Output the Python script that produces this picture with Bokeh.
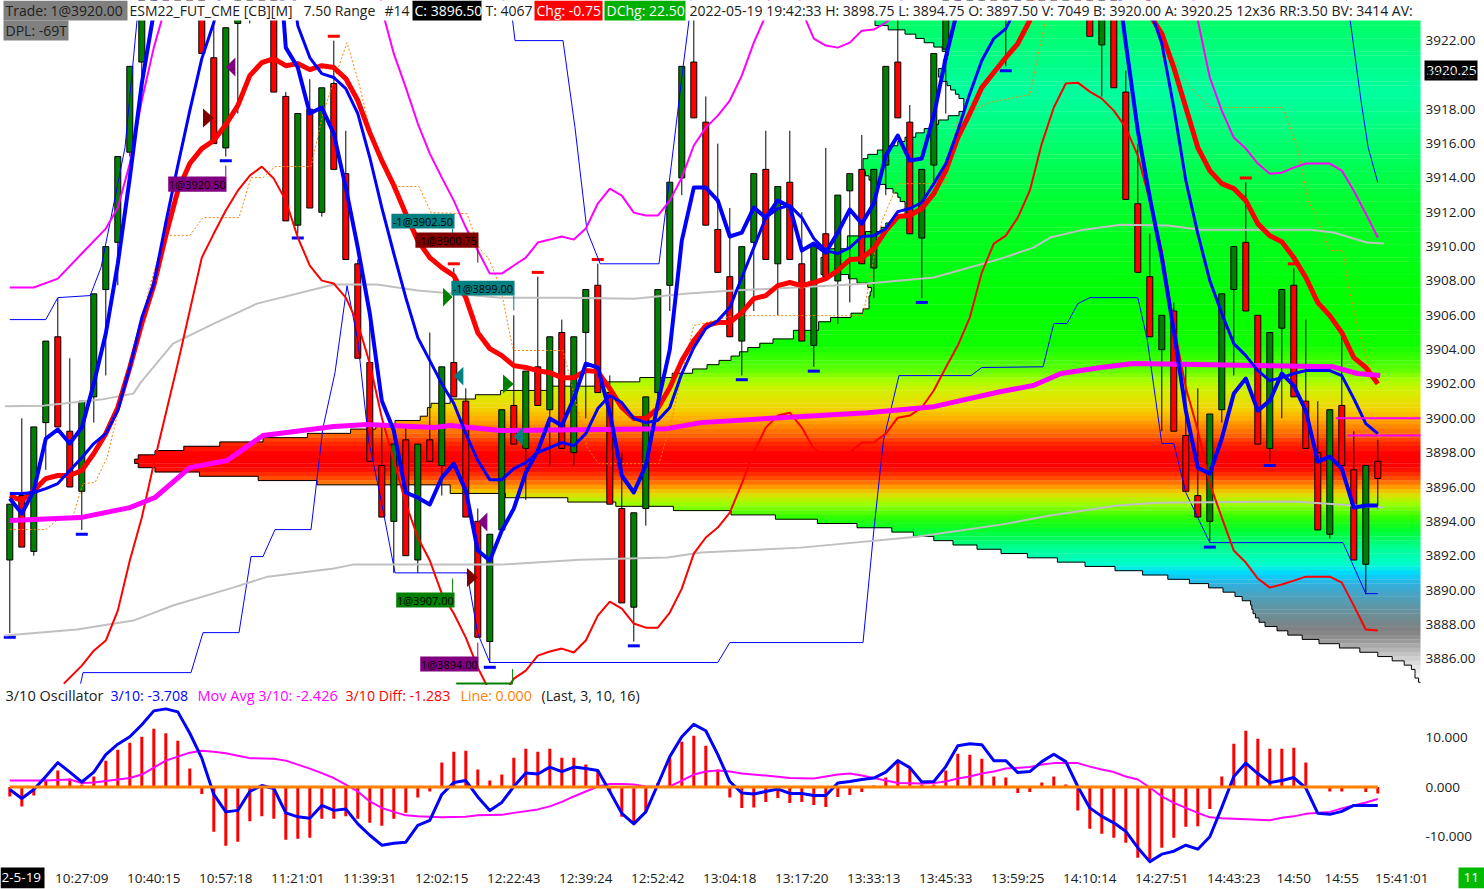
import numpy as np
from bokeh.embed import file_html
from bokeh.resources import INLINE
from bokeh.plotting import figure
from bokeh.layouts import column
from bokeh.core.properties import value
from bokeh.models import Range1d, FixedTicker, NumeralTickFormatter

FONT = "Open Sans"

# ---- candles (bar index is the position in these lists; 3920+ values above the frame are estimates)
opens = [3891.75,3895.5,3892.25,3899.75,3904.75,3899.25,3895.75,3901.25,3907.5,3910.25,
 3915.5,3920.75,3925.75,3928.75,3931.75,3928,3925.5,3921,3915.75,3923,
 3925,3928,3925,3918.75,3911.25,3918,3912,3919.5,3914.25,3909,
 3903.25,3897.25,3894,3898.75,3891.75,3898.75,3897.25,3903.25,3901,3894,
 3887,3893.5,3900.75,3898.25,3903,3900.5,3905,3898,3905,3907.75,
 3901.5,3894.75,3889,3894.75,3901.5,3907.75,3914,3920.75,3917.25,3911,
 3908.25,3904.5,3910.25,3914.5,3909,3913.75,3909,3904.25,3910.75,3908,
 3913.25,3914.5,3908.75,3914.75,3920.75,3917.25,3910.5,3914.75,3921.5,3925.25,
 3924,3927.25,3930.25,3924,3930.25,3935.25,3938,3933,3928,3930.25,
 3925,3921.75,3925,3919,3912.5,3908.25,3904,3906.25,3899,3895.5,
 3894,3900.5,3907.5,3910.25,3906,3898.25,3905.25,3907.75,3901,3898,
 3893.25,3900.75,3897,3891.5,3897.5]
highs = [3895,3900,3899.5,3904.5,3907,3903.5,3901,3907.25,3910,3915.25,
 3920.5,3925.5,3928.5,3932,3933,3929.5,3927,3924,3922.75,3926,
 3928,3929,3926.5,3919,3917.75,3919.75,3919.25,3922,3916.75,3909.25,
 3906,3899.5,3898.5,3899.5,3898.5,3905,3903,3908.75,3901.75,3894.75,
 3893.25,3900.5,3906,3902.75,3908.25,3904.75,3905.75,3904.75,3907.5,3909,
 3902.5,3898,3894.5,3901.25,3907.5,3913.75,3920.5,3924,3918.75,3916,
 3912.25,3910,3914.25,3916.75,3913.5,3916.75,3912,3910,3915.75,3913,
 3914.25,3916.5,3914.5,3920.5,3924,3918.25,3914.5,3921.25,3925,3926.5,
 3927,3930,3931,3930,3935,3938,3939,3935,3930,3931,
 3926,3925,3926,3920.25,3916,3910.75,3906,3906.75,3903,3901.75,
 3900.25,3907.25,3910,3913.75,3906,3905,3907.5,3908.75,3905.75,3901,
 3900.5,3904.75,3899.25,3897.25,3898.75]
lows = [3887.5,3892.5,3892,3897,3899.5,3896,3893.5,3899.75,3902.5,3907.75,
 3915.25,3919.75,3924,3926.5,3928,3926,3921.25,3916,3915.25,3917.75,
 3923,3925,3919,3911.5,3910.75,3912.25,3911.75,3914.5,3909.25,3903.5,
 3897.5,3894.25,3891,3892,3891,3897.5,3895.5,3901.25,3894.25,3887.25,
 3885.75,3893.5,3898.5,3895.25,3900.75,3897.25,3898.25,3897.25,3900,3901.5,
 3895,3889.25,3887,3893.75,3901,3906.25,3913,3917.5,3911.25,3908.5,
 3904.75,3902.5,3906.25,3909.25,3906,3909.25,3904.5,3903,3908.25,3905.5,
 3906.75,3909,3907,3913,3917.5,3910.75,3907,3913.75,3917.75,3923.5,
 3923.5,3924,3925,3920.5,3928,3933,3933,3928,3926,3925,
 3922.25,3918.75,3919.25,3912.75,3908.5,3904.75,3899.25,3899.25,3895.75,3894.25,
 3892.75,3899.75,3902.5,3906.25,3898.5,3897.5,3900,3901.25,3898.25,3893.5,
 3893,3897.25,3891.75,3889.75,3894.75]
closes = [3895,3892.5,3899.5,3904.5,3899.5,3896,3901,3907.25,3910,3915.25,
 3920.5,3925.5,3928.5,3932,3928,3926,3921.25,3916,3922.75,3926,
 3928,3925,3919,3911.5,3917.75,3912.25,3919.25,3914.5,3909.25,3903.5,
 3897.5,3894.25,3898.5,3892,3898.5,3897.5,3903,3901.25,3894.25,3887.25,
 3893.25,3900.5,3898.5,3902.75,3900.75,3904.75,3898.25,3904.75,3907.5,3901.5,
 3895,3889.25,3894.5,3901.25,3907.5,3913.75,3920.5,3917.5,3911.25,3908.5,
 3904.75,3910,3914.25,3909.25,3913.5,3909.25,3904.5,3910,3908.25,3913,
 3914.25,3909,3914.5,3920.5,3917.5,3910.75,3914.5,3921.25,3925,3923.5,
 3927,3930,3925,3930,3935,3938,3933,3928,3930,3925,
 3922.25,3925,3919.25,3912.75,3908.5,3904.75,3906,3899.25,3895.75,3894.25,
 3900.25,3907.25,3910,3906.25,3898.5,3905,3907.5,3901.25,3898.25,3893.5,
 3900.5,3897.25,3891.75,3897.25,3896.5]

swing_low_bars = [0,6,18,24,40,52,61,67,76,83,100,105]
swing_high_bars = [27,37,44,49,103,107]

# ---- moving averages
fast_blue_bars = list(range(0,14)) + list(range(22,81)) + list(range(92,115))
fast_blue = [3895.33,3894.45,3895.79,3898.82,3899.35,3898.53,3899.46,3902.02,3904.94,3909.01,
 3914.02,3919.5,3923.63,3929,
 3931,3921.59,3920.43,3917.75,3918.1,3916.58,3913.44,3909.94,3906.1,3901.03,
 3899.29,3895.68,3895.38,3894.98,3896.55,3897.36,3895.79,3892.3,3891.72,3893.46,
 3894.74,3896.84,3898.12,3899.99,3899.58,3901.15,3903.19,3902.96,3900.33,3896.67,
 3895.68,3897.25,3900.86,3904.0,3910.35,3913.44,3913.44,3912.68,3910.59,3910.82,
 3912.27,3911.69,3912.68,3912.33,3909.77,3910.18,3909.65,3910.82,3912.16,3911.34,
 3912.51,3915.3,3916.47,3915.01,3915.13,3917.63,3921.01,3923.86,3930,
 3927.2,3921.83,3916.76,3912.86,3909.36,3905.11,3900.45,3897.13,3896.78,3898.82,
 3901.44,3902.32,3900.45,3901.03,3902.61,3901.91,3900.45,3897.48,3897.77,3897.07,
 3894.8,3894.92,3894.92]
slow_blue_bars = list(range(0,19)) + list(range(23,86)) + list(range(94,115))
slow_blue = [3895.62,3895.62,3895.68,3895.91,3896.2,3896.96,3897.71,3898.53,3899.11,3900.45,
 3902.96,3905.87,3907.85,3911.4,3914.72,3917.92,3920.95,3923.05,3926,
 3928,3922.87,3921.01,3920.08,3919.85,3919.2,3917.75,3915.19,3912.27,3909.6,
 3907.03,3904.7,3903.36,3902.02,3900.86,3899.11,3897.54,3896.43,3896.43,3897.07,
 3897.42,3898.01,3898.3,3898.59,3898.41,3899.11,3900.57,3901.33,3900.92,3899.99,
 3899.75,3899.87,3900.63,3902.61,3904.12,3905.23,3905.69,3906.45,3908.2,3909.94,
 3911.69,3912.22,3912.39,3911.69,3910.47,3909.77,3909.6,3909.94,3910.59,3910.64,
 3911.05,3912.04,3912.22,3912.57,3913.67,3914.84,3916.76,3918.91,3920.84,3922.12,
 3922.7,3924.04,3928,
 3930,3923.86,3921.83,3918.1,3913.85,3910.76,3908.02,3906.1,3904.35,3903.65,
 3902.78,3902.2,3902.37,3902.61,3902.78,3902.78,3902.78,3902.49,3901.15,3899.69,3899.11]
thick_red_bars = list(range(0,87)) + list(range(94,115))
thick_red = [3895.5,3895.21,3895.79,3896.49,3896.67,3896.67,3896.96,3897.95,3899.11,3900.63,
 3902.96,3905.52,3907.73,3910.64,3913.26,3914.84,3915.71,3916.18,3917.11,3918.21,
 3919.96,3920.72,3920.95,3920.54,3920.66,3920.31,3920.54,3920.43,3919.79,3918.51,
 3916.64,3915.01,3913.56,3911.92,3910.35,3909.36,3908.78,3908.31,3907.03,3904.99,
 3904.06,3903.65,3903.07,3902.96,3902.78,3902.66,3902.37,3902.37,3902.78,3902.72,
 3901.73,3900.63,3899.99,3899.99,3900.57,3901.79,3903.36,3904.53,3905.4,3905.58,
 3905.58,3906.16,3906.97,3907.15,3907.73,3907.91,3907.73,3907.91,3908.14,3908.61,
 3909.25,3909.3,3909.89,3910.93,3911.75,3911.81,3912.22,3913.09,3914.43,3916.35,
 3917.75,3919.26,3920.14,3921.01,3921.83,3923.17,3929,
 3930,3923.5,3922.41,3920.43,3918.1,3915.77,3914.43,3913.67,3913.38,3912.68,
 3911.34,3910.64,3910.29,3909.36,3908.2,3906.74,3905.98,3904.99,3903.54,3902.96,3902.02]
lower_band_bars = [4.5] + list(range(6,115))
lower_band = [3884.55,3885.6,3886.47,3887.06,3888.8,3891.72,3894.22,3897.36,3900.28,3903.19,
 3906.28,3909.36,3910.76,3912.1,3913.26,3914.14,3914.66,3913.96,3912.68,3910.53,
 3908.9,3908.02,3907.85,3907.03,3905.52,3903.19,3900.04,3897.54,3895.04,3893.06,
 3891.72,3889.79,3888.63,3887.23,3885.48,3884.09,3883.7,3884.84,3885.31,3886.18,
 3886.42,3886.59,3886.36,3887.06,3888.51,3889.33,3888.92,3888.05,3887.81,3887.81,
 3888.69,3890.08,3892.12,3893.06,3893.64,3894.51,3896.2,3898.01,3899.46,3900.16,
 3900.33,3899.46,3898.24,3897.83,3897.83,3898.01,3898.59,3898.59,3899.11,3900.04,
 3900.16,3900.63,3901.62,3902.96,3904.24,3905.87,3908.49,3910.18,3910.64,3911.69,
 3913.26,3916,3918.1,3919.5,3919.55,3919.03,3918.62,3917.92,3916.93,3915.3,
 3912.68,3909.77,3905.4,3901.79,3899.29,3896.2,3894.22,3892.3,3891.6,3890.67,
 3890.14,3890.32,3890.55,3890.78,3890.78,3890.78,3890.43,3889.09,3887.7,3887.64]
upper_band_bars = [0,2,4,6,8,9,10,11,12,13,14,30] + list(range(31,76)) + list(range(98,115))
upper_band = [3907.62,3907.62,3908.14,3909.6,3911.05,3912.27,3914.84,3918.51,3921.59,3924.04,3929,3931,
 3923.86,3921.24,3919.26,3917.17,3915.42,3914.02,3912.68,3911.11,3909.77,3908.43,
 3908.43,3908.9,3909.36,3910.24,3910.41,3910.59,3910.41,3911.05,3912.51,3913.38,
 3912.97,3911.98,3911.81,3911.81,3912.68,3914.02,3915.89,3916.93,3917.63,3918.51,
 3919.96,3921.88,3923.46,3927,3927,3923.75,3922.12,3921.71,3921.59,3921.88,
 3922.58,3922.64,3923.05,3923.63,3926,
 3926.5,3923.17,3919.85,3917.92,3916.35,3915.71,3914.84,3914.25,3914.31,3914.6,
 3914.84,3914.84,3914.84,3914.43,3913.26,3911.92,3910.53]
channel_high_bars = [0,3,4,6.7,7.6,8.6,9.6,10.6,11,40,41.9,42.1,46.1,47.1,48.1,49.2,54.1,55.1,56.1,56.6,57,111,111.7,112.6,113.2,114]
channel_high = [3905.75,3905.75,3907.03,3907.15,3908.78,3912.27,3915.77,3923.17,3926,3926,3923.17,3922,3922,3916.93,3910.93,3909,3909,3914.6,3920.43,3923.17,3926,3926,3923.17,3918.5,3915.77,3913.73]
channel_low_bars = [5.9,6.1,15.1,16.1,19.1,20.1,21.1,22.1,25.1,26.1,27.1,28.1,29,29.9,30.9,32.1,38.1,39,40,59,60,71.1,72,72.8,74.1,80.1,81,86.1,87,88.1,89,90,94,94.8,96,97,98,100,111.1,113,114]
channel_low = [3884.55,3885.19,3885.19,3887.52,3887.52,3891.95,3891.95,3893.52,3893.52,3899.46,3902.66,3907.73,3904.53,3898.7,3895.38,3891,3891,3887.46,3885.78,3885.78,3886.94,3886.94,3893.46,3898.7,3902.49,3902.49,3902.96,3903,3905.52,3905.52,3906.68,3907.03,3907.03,3904.53,3898.53,3898.53,3895.68,3892.76,3892.76,3889.79,3889.79]
dotted_bars = [0,3,4.06,5.2,6.1,7.1,8.1,9,10.3,11.1,11.5,12.6,13.1,15,16.1,19.1,20.1,21.1,22.1,25.1,26.1,27.1,28.1,29.1,30.1,31.1,32.3,34.1,35.1,38.1,39.1,39.9,40.9,41.9,42,46.1,46.6,47.6,48.1,49.1,54.1,55.2,56,57,60.3,71.1,71.7,72.1,72.7,74,78,79,81.6,85,85.3,86.3,87,95,96.1,97,98.1,100,106.1,107.3,108.2,109.4,110,111.1,111.5,112.4,113.2,114]
dotted = [3893.52,3893.52,3894.16,3894.16,3896.2,3896.26,3897.71,3900.28,3903.95,3905.87,3907.27,3909.94,3910.64,3910.64,3911.69,3911.69,3914.02,3914.02,3914.66,3914.66,3917.75,3919.85,3921.88,3919.5,3916.58,3914.84,3913.5,3913.5,3911.98,3911.92,3909.94,3909.3,3907.62,3904.12,3903.95,3903.95,3902.61,3899.69,3898.3,3897.36,3897.36,3900.04,3902.61,3905.4,3905.98,3905.98,3908.2,3909.77,3911.52,3913.67,3913.67,3917.52,3918.39,3918.86,3919.85,3923.17,3926,3926,3921.01,3920.95,3919.5,3918.1,3918.1,3915.77,3912.68,3910.93,3909.77,3909.77,3907.85,3905.11,3903.19,3902.02]
grey_up_bars = [-0.4,2.8,7.6,10.3,10.9,13.6,17,20.6,27,30.6,34,40.9,46.5,52,56.5,60.3,68.6,71.5,77,82.6,85.3,86.7,89.5,92.6,96.5,99.2,108.4,110.3,113.1,114.5]
grey_up = [3900.7,3900.74,3901.09,3901.44,3902.08,3904.35,3905.52,3906.68,3907.79,3907.79,3907.44,3907.03,3907.03,3906.97,3907.27,3907.44,3907.73,3907.85,3908.2,3909.3,3909.94,3910.53,3910.99,3911.28,3911.23,3910.99,3910.99,3910.82,3910.24,3910.18]
grey_dn_bars = [-0.4,5.6,10.3,13.6,18.6,21.5,27,28.6,35.3,40.9,47.5,54.8,57.6,65.9,75.6,82.6,86.7,92.3,95.6,107,114.5]
grey_dn = [3887.35,3887.7,3888.22,3889.1,3890.14,3890.78,3891.25,3891.48,3891.48,3891.48,3891.77,3891.89,3892.18,3892.47,3893.11,3893.81,3894.34,3894.92,3895.09,3895.15,3894.8]
vwap_bars = [0,5.9,10,12.1,15,18.1,21.1,27,29.8,35.3,36.7,40.9,54.8,57.6,63.1,71.5,77,82.6,85.3,87.6,90.9,93.6,110.3,112.3,114.2]
vwap = [3894.05,3894.22,3894.8,3895.39,3897.13,3897.54,3899,3899.52,3899.64,3899.46,3899.58,3899.29,3899.4,3899.75,3899.99,3900.33,3900.68,3901.56,3901.91,3902.61,3902.96,3903.19,3903,3902.61,3902.49]

# ---- volume profile: one start bar per 0.25 price level, from 3923.25 down to 3884.75
profile_start = [72.1,72.1,73.2,74.6,75.5,76.2,77.0,77.7,78.2,78.1,77.8,77.8,77.4,77.4,77.7,78.1,78.4,78.8,79.1,79.5,
 79.5,79.5,79.1,78.2,77.4,77.0,76.2,75.5,74.6,74.0,73.2,72.3,71.5,71.1,71.1,71.1,71.3,71.6,72.1,73.0,
 73.6,74.0,74.2,74.6,74.6,74.6,73.8,73.8,73.0,72.6,71.3,69.8,69.8,69.8,68.2,68.2,67.6,67.6,67.6,67.6,
 69.9,70.6,71.5,71.8,71.7,71.6,71.6,71.6,71.1,70.1,68.4,67.4,67.4,65.3,65.3,63.6,62.5,61.5,60.8,60.1,
 59.1,58.1,56.9,55.2,52.5,49.8,44.8,40.9,38.8,36.7,35.1,34.8,34.8,34.2,32.1,30.5,28.4,24.8,21.1,17.5,
 14.5,12.1,10.7,10.4,10.7,12.1,15.8,20.7,25.6,36.7,36.7,41.3,46.5,50.5,55.3,60.1,63.8,67.3,70.6,73.5,
 75.3,77,78.6,80.6,82.6,84.8,87.3,89.6,92.1,94.4,96.5,98.3,99.9,101.1,102.1,102.7,103.4,103.5,103.6,103.8,
 104.1,104.6,105.6,106.5,107.7,109.1,110.8,112.5,114,115.2,116.2,116.8,117.1,117.1,117.4]
profile_top = 3923.25
profile_step = 0.25
color_prices = [3923.17,3918.91,3916.18,3912.68,3906.86,3904.24,3902.78,3902.2,3901.62,3900.63,3899.99,3899.4,3899,3898.53,3897.95,3897.13,3896.55,3895.97,3895.62,3895.04,3894.22,3893.46,3892.47,3891.54,3890.96,3890.38,3889.56,3888.63,3887.64,3887.06,3886.47,3885.72,3884.9]
color_stops = ["#00ff66","#00ffa0","#00ff70","#00ff30","#00ff00","#10ff00","#60ff00","#a8ff00","#d0f000","#f0d800","#ffb000","#ff8000","#ff6000","#ff2800","#ff0000","#ff0000","#ff4400","#ffa000","#e8d800","#a0ff00","#30ff00","#00ff30","#00ff90","#00ffc8","#00d8ff","#30b0e0","#4ea0bc","#6a9098","#808080","#989898","#b8b8b8","#dcdcdc","#f8f8f8"]

# ---- trades
trade_text = ["1@3920.50","-1@3902.50","-1@3900.75","-1@3899.00","1@3907.00","1@3894.00"]
trade_left = [13.2,31.8,33.8,36.8,32.2,34.2]
trade_right = [18.06,37.06,39.06,42.06,37.06,39.06]
trade_high = [3914.08,3911.92,3910.82,3908.02,3889.85,3886.13]
trade_low = [3913.2,3911.05,3909.94,3907.15,3888.98,3885.25]
trade_color = ["#800080","#008080","#800000","#008080","#008000","#800080"]
stem_bar = [18,36.9,39,42,36.9,39,41.9]
stem_high = [3914.72,3911.05,3909.94,3907.15,3890.66,3886.94,3885.4]
stem_low = [3914.08,3910.76,3909.07,3906.28,3889.85,3886.13,3884.55]
stem_color = ["#800080","#008080","#800000","#008080","#008000","#800080","#008000"]
arrow_base = [16.1,18.8,36.1,37.8,38.1,39.8,41.1,42.8]
arrow_tip = [17.0,18.0,36.9,37.0,39.0,39.0,42.0,42.0]
arrow_price = [3917.49,3920.46,3907.06,3902.46,3890.73,3893.96,3902.0,3898.94]
arrow_color = ["#800000","#800080","#008000","#008080","#800000","#800080","#008000","#008080"]

# ---- oscillator
osc_diff = [-1.9,-3.9,-1.7,1.5,3.3,1.7,0.5,2.1,5.3,7.5,
 8.9,10.1,11.7,10.8,9.3,3.7,-1.4,-9,-11.8,-11,
 -6.9,-5.9,-6.4,-10.6,-10.4,-10.2,-6.4,-6.4,-5.9,-6.4,
 -7.2,-7.8,-6.4,-5.2,-2.1,-0.9,4.9,7.1,7.3,3.5,
 1.3,2.5,5.9,7.7,7.1,7.7,5.9,5.9,4.5,3.3,
 -0.9,-6,-7.5,-4.9,0.8,5.9,9.1,10.3,8.3,3.5,
 -2.1,-4.2,-4.1,-3,-2.2,-3.2,-3,-3.6,-4,-2,
 -1.6,-1,0.3,1.9,4.8,3.7,0.5,0.5,3.3,6.7,
 6.5,5.7,2.1,1.9,-1.2,-1,0.9,2.1,0.5,-4.7,
 -8.4,-9.4,-10.2,-11.2,-14.2,-14.5,-12.2,-10.2,-8,-7.9,
 -4.4,2.1,8.7,11.3,9.7,7.7,7.7,7.9,4.9,0,
 -0.9,-0.9,0,-1,-1.283]
osc_main = [-0.5,-2.3,-0.5,2.1,4.9,3,1,3,6.5,8.6,
 10.1,12.5,15.3,15.7,15.1,10.8,5.8,-1.5,-5,-4.7,
 -0.9,0.3,-0.3,-5.2,-6,-6.3,-3.7,-4.7,-4.4,-7.4,
 -9.7,-11.7,-11.3,-11.1,-7.7,-6.7,-1.5,0.9,1.3,-2,
 -4.7,-3.1,0.1,2.8,2.6,4,3.1,4,3.7,3.3,
 -0.9,-5.3,-7.4,-5,0.5,6.1,10.1,12.6,11.3,6.5,
 1.1,-1.2,-1.4,-0.9,-0.4,-1.3,-1.3,-1.7,-1.7,0.8,
 1.1,1.5,1.8,3,5.3,3.9,1,1.1,4.1,8.3,
 8.7,8.5,5.3,5.3,2.9,3.1,5.1,6.6,5.1,0.1,
 -4.2,-5.9,-7.2,-8.9,-12.2,-15,-13.5,-12.9,-11.7,-12.5,
 -10,-4.1,2.1,4.8,2.7,0.9,1.3,1.9,-0.2,-5.3,
 -5.5,-4.9,-3.7,-3.7,-3.708]
osc_ma_bars = [0,3,5,6,7,9,10,11,12,13,14,15,16,17,18,19,20,22,23,24,25,26,27,28,29,30,31,32,33,34,36,38,39,41,42,44,45,46,47,48,49,50,51,52,53,54,55,56,57,58,59,60,61,63,65,67,69,70,71,72,73,74,76,77,78,79,80,81,82,83,85,86,87,89,90,91,92,93,94,95,96,97,98,99,100,101,103,105,106,107,108,110,111,112,113,114]
osc_ma = [1.3,1.3,1.5,0.8,0.9,1.5,1.8,2.5,3.9,5.3,6.1,6.9,7.3,7.1,6.8,6.3,5.8,5.7,5.3,4.5,3.7,2.8,1.8,0.5,-0.9,-2.9,-4.2,-5,-5.7,-5.9,-6.1,-6,-5.7,-5.6,-5.2,-4.5,-3.9,-3,-1.9,-0.9,0.1,0.6,0.6,0.5,0.1,0,0.1,1.3,2.5,3.1,3.3,3.1,2.7,2.3,1.8,1.7,2.5,2.7,2.3,1.8,1.3,0.8,0.7,0.8,1.1,1.7,2.1,2.7,3.1,3.7,4,4.5,4.8,4.8,4.1,3.5,3,2.1,1.5,-0.1,-1.9,-3.2,-4.2,-5.2,-6.1,-6.3,-6.5,-6.7,-6.2,-5.9,-5.4,-5,-4.3,-3.7,-3.1,-2.426]

price_ticks = [3886,3888,3890,3892,3894,3896,3898,3900,3902,3904,3906,3908,3910,3912,3914,3916,3918,3920,3922]
osc_ticks = [-10,0,10]
time_ticks = [6,12,18,24,30,36,42,48,54,60,66,72,78,84,90,96,102,107,111,116]
time_labels = ["10:27:09","10:40:15","10:57:18","11:21:01","11:39:31","12:02:15","12:22:43","12:39:24","12:52:42","13:04:18","13:17:20","13:33:13","13:45:33","13:59:25","14:10:14","14:27:51","14:43:23","14:50","14:55","15:41:01"]

# ---- scales: both frames fill the page so the header strip and the boxes can be drawn as glyphs
BAR_PX = 12.0
bx = lambda px: (px - 9.3) / BAR_PX
PLOT_RIGHT = bx(1420)
PRICE_PX = 17.17
PRICE_TOP = 3884.44 + 685 / PRICE_PX
py = lambda y: PRICE_TOP - y / PRICE_PX
oy = lambda y: (787 - y) / 5.0

XR = Range1d(bx(0), bx(1484))
p = figure(width=1484, height=685, x_range=XR, y_range=Range1d(3884.44, PRICE_TOP),
           output_backend="svg", toolbar_location=None, y_axis_location="right", x_axis_location=None,
           min_border_left=0, min_border_right=0, min_border_top=0, min_border_bottom=0)
q = figure(width=1484, height=204, x_range=XR, y_range=Range1d(oy(889), oy(685)),
           output_backend="svg", toolbar_location=None, y_axis_location="right",
           min_border_left=0, min_border_right=0, min_border_top=0, min_border_bottom=0)
for f in (p, q):
    f.grid.visible = False
    f.outline_line_color = None
    f.yaxis.axis_line_color = None
    f.yaxis.major_tick_line_color = None
    f.yaxis.minor_tick_line_color = None
    f.yaxis.major_tick_out = 0
    f.yaxis.major_tick_in = 0
    f.yaxis.minor_tick_out = 0
    f.yaxis.major_label_text_font = FONT
    f.yaxis.major_label_text_font_size = "13.5px"
    f.yaxis.major_label_text_color = "#202020"
    f.yaxis.major_label_standoff = -59
p.yaxis.ticker = FixedTicker(ticks=price_ticks)
p.yaxis.formatter = NumeralTickFormatter(format="0.00")
q.yaxis.ticker = FixedTicker(ticks=osc_ticks)
q.yaxis.formatter = NumeralTickFormatter(format="0.000")
q.xaxis.ticker = FixedTicker(ticks=time_ticks)
q.xaxis.major_label_overrides = dict(zip(time_ticks, time_labels))
q.xaxis.axis_line_color = None
q.xaxis.major_tick_line_color = None
q.xaxis.minor_tick_line_color = None
q.xaxis.major_tick_out = 0
q.xaxis.major_tick_in = 0
q.xaxis.minor_tick_out = 0
q.xaxis.major_label_text_font = FONT
q.xaxis.major_label_text_font_size = "13.5px"
q.xaxis.major_label_text_color = "#202020"
q.xaxis.major_label_standoff = -20

# ---- profile
starts = np.array(profile_start)
levels = profile_top - profile_step * np.arange(len(starts))
stop_rgb = np.array([[int(c[i:i+2], 16) for i in (1, 3, 5)] for c in color_stops], dtype=float)
order = np.argsort(color_prices)
band_colors = []
for lv in levels:
    rgb = [int(round(np.interp(lv, np.array(color_prices)[order], stop_rgb[order, k]))) for k in range(3)]
    band_colors.append("#%02x%02x%02x" % tuple(rgb))
p.hbar(y=levels, height=profile_step * 1.08, left=starts, right=PLOT_RIGHT, color=band_colors, line_color=None)
edge_x, edge_y = [], []
for s, lv in zip(starts, levels):
    edge_x += [s, s]
    edge_y += [lv + profile_step / 2, lv - profile_step / 2]
edge_x.append(PLOT_RIGHT)
edge_y.append(levels[-1] - profile_step / 2)
p.line(edge_x, edge_y, color="#000000", line_width=1)

# ---- candles
bars = np.arange(len(opens))
up = np.array(closes) > np.array(opens)
p.segment(bars, lows, bars, highs, color="#000000", line_width=1)
p.vbar(x=bars, width=0.5, top=np.maximum(opens, closes), bottom=np.minimum(opens, closes),
       fill_color=["#008000" if u else "#ff0000" for u in up], line_color="#000000", line_width=1)
lo_x = np.array(swing_low_bars)
lo_y = np.array(lows)[lo_x] - 0.25
p.segment(lo_x - 0.5, lo_y, lo_x + 0.5, lo_y, color="#0000ff", line_width=3)
hi_x = np.array(swing_high_bars)
hi_y = np.array(highs)[hi_x] + 0.25
p.segment(hi_x - 0.5, hi_y, hi_x + 0.5, hi_y, color="#ff0000", line_width=3)

# ---- lines
p.line(dotted_bars, dotted, color="#ff8000", line_width=1, line_dash="2 2")
p.line(channel_high_bars, channel_high, color="#0000ff", line_width=1)
p.line(channel_low_bars, channel_low, color="#0000ff", line_width=1)
p.line(grey_up_bars, grey_up, color="#c0c0c0", line_width=2)
p.line(grey_dn_bars, grey_dn, color="#c0c0c0", line_width=2)
p.line(upper_band_bars, upper_band, color="#ff00ff", line_width=2)
p.line(lower_band_bars, lower_band, color="#ff0000", line_width=2)
p.line(thick_red_bars, thick_red, color="#ff0000", line_width=5, line_join="round")
p.line(vwap_bars, vwap, color="#ff00ff", line_width=5, line_join="round")
p.line(slow_blue_bars, slow_blue, color="#0000ff", line_width=3, line_join="round")
p.line(fast_blue_bars, fast_blue, color="#0000ff", line_width=4, line_join="round")
p.segment([110.5, 111.5], [3900.0, 3899.0], [PLOT_RIGHT, PLOT_RIGHT], [3900.0, 3899.0], color="#ff00ff", line_width=2)

# ---- trades
p.segment(stem_bar, stem_low, stem_bar, stem_high, color=stem_color, line_width=1)
p.segment([37.2], [3884.55], [41.9], [3884.55], color="#008000", line_width=2)
xs, ys = [], []
for b, t, y0 in zip(arrow_base, arrow_tip, arrow_price):
    xs.append([b, t, b])
    ys.append([y0 + 0.55, y0, y0 - 0.55])
p.patches(xs, ys, fill_color=arrow_color, line_color=None)
p.quad(left=trade_left, right=trade_right, top=trade_high, bottom=trade_low, fill_color=trade_color, line_color=None)
p.text(x=(np.array(trade_left) + np.array(trade_right)) / 2, y=(np.array(trade_high) + np.array(trade_low)) / 2,
       text=trade_text, text_align="center", text_baseline="middle", text_color="#000000",
       text_font=value(FONT), text_font_size="11px")

def box(f, x0, x1, top, bottom, color):
    f.quad(left=[bx(x0)], right=[bx(x1)], top=[top], bottom=[bottom], fill_color=color, line_color=None)

def label(f, px, y, text, color="#202020", size="14px"):
    f.text(x=[bx(px)], y=[y], text=[text], text_color=color, text_align="left", text_baseline="middle",
           text_font=value(FONT), text_font_size=value(size))

# ---- header strip, drawn over the tops of the lines that leave the plot
box(p, 0, 1484, py(0), py(20), "#ffffff")
box(p, 3, 127, py(0), py(20), "#808080")
box(p, 412, 481, py(0), py(20), "#000000")
box(p, 534, 602, py(0), py(20), "#ff0000")
box(p, 604, 685, py(0), py(20), "#00b000")
box(p, 3, 68, py(20), py(40), "#808080")
box(p, 1424, 1477, py(60), py(80), "#000000")
HY = py(10)
label(p, 5, HY, "Trade: 1@3920.00")
label(p, 129, HY, "ESM22_FUT_CME [CB][M]")
label(p, 303, HY, "7.50 Range")
label(p, 384, HY, "#14")
label(p, 414, HY, "C: 3896.50", "#ffffff")
label(p, 485, HY, "T: 4067")
label(p, 536, HY, "Chg: -0.75", "#ffffff")
label(p, 606, HY, "DChg: 22.50", "#ffffff")
label(p, 689, HY, "2022-05-19 19:42:33 H: 3898.75 L: 3894.75 O: 3897.50 V: 7049 B: 3920.00 A: 3920.25 12x36 RR:3.50 BV: 3414 AV: ")
label(p, 5, py(30), "DPL: -69T")
label(p, 1426, 3920.25, "3920.25", "#ffffff", "13.5px")

# ---- oscillator
q.vbar(x=bars, width=0.25, top=osc_diff, bottom=0, color="#ff0000", line_color=None)
q.line(osc_ma_bars, osc_ma, color="#ff00ff", line_width=2)
q.line(bars, osc_main, color="#0000ff", line_width=3, line_join="round")
q.line([0, 114], [0, 0], color="#ff8000", line_width=3)
LY = oy(695)
label(q, 5, LY, "3/10 Oscillator", size="14.5px")
label(q, 110, LY, "3/10: -3.708", "#0000ff", "14.2px")
label(q, 197, LY, "Mov Avg 3/10: -2.426", "#ff00ff", "14.5px")
label(q, 345, LY, "3/10 Diff: -1.283", "#ff0000", "14.2px")
label(q, 460, LY, "Line: 0.000", "#ff8000", "14.2px")
label(q, 541, LY, "(Last, 3, 10, 16)", size="14.2px")
box(q, 0, 44, oy(868), oy(889), "#000000")
box(q, 1458, 1484, oy(868), oy(889), "#00b900")
label(q, 1, oy(878), "2-5-19", "#ffffff", "13.5px")
label(q, 1463, oy(878), "11", "#ffffff", "13.5px")

page = column(p, q, spacing=0)
open("out.html", "w").write(file_html(page, INLINE))
